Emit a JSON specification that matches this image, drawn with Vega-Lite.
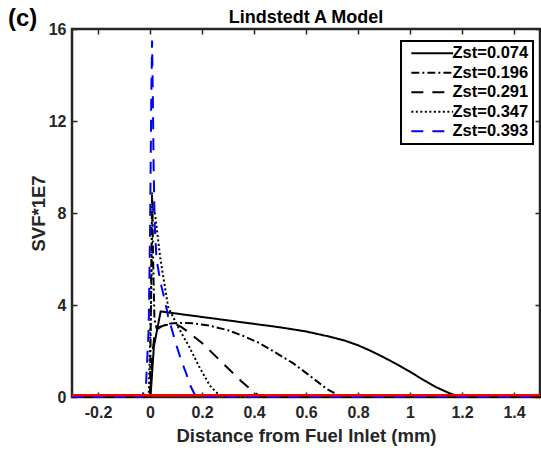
{
  "$schema": "https://vega.github.io/schema/vega-lite/v6.json",
  "width": 468,
  "height": 368,
  "autosize": {"type": "none"},
  "padding": {"left": 72, "top": 29, "right": 1, "bottom": 58},
  "background": "white",
  "title": {"text": "Lindstedt A Model", "fontSize": 18, "fontWeight": "bold", "font": "Liberation Sans", "color": "#000", "offset": -20, "anchor": "middle"},
  "config": {
    "font": "Liberation Sans",
    "view": {"stroke": "#262626", "strokeWidth": 2.5},
    "axis": {"grid": false, "domain": false, "tickColor": "#262626", "tickWidth": 1.5, "tickSize": -5, "labelColor": "#262626", "labelFontSize": 16, "labelFontWeight": "bold", "labelFont": "Liberation Sans", "titleColor": "#262626", "titleFontSize": 18.5, "titleFontWeight": "bold", "titleFont": "Liberation Sans"}
  },
  "datasets": {
    "curves": [
      {"s": "Zst=0.074", "x": -0.3, "y": 0}, {"s": "Zst=0.074", "x": 0.002, "y": 0}, {"s": "Zst=0.074", "x": 0.015, "y": 2.2}, {"s": "Zst=0.074", "x": 0.041, "y": 3.72},
      {"s": "Zst=0.074", "x": 0.1, "y": 3.63}, {"s": "Zst=0.074", "x": 0.2, "y": 3.48}, {"s": "Zst=0.074", "x": 0.3, "y": 3.33}, {"s": "Zst=0.074", "x": 0.4, "y": 3.18},
      {"s": "Zst=0.074", "x": 0.5, "y": 3.03}, {"s": "Zst=0.074", "x": 0.6, "y": 2.85}, {"s": "Zst=0.074", "x": 0.7, "y": 2.6}, {"s": "Zst=0.074", "x": 0.75, "y": 2.45},
      {"s": "Zst=0.074", "x": 0.8, "y": 2.25}, {"s": "Zst=0.074", "x": 0.85, "y": 2.0}, {"s": "Zst=0.074", "x": 0.9, "y": 1.72}, {"s": "Zst=0.074", "x": 0.95, "y": 1.42},
      {"s": "Zst=0.074", "x": 1.0, "y": 1.1}, {"s": "Zst=0.074", "x": 1.05, "y": 0.75}, {"s": "Zst=0.074", "x": 1.1, "y": 0.43}, {"s": "Zst=0.074", "x": 1.15, "y": 0.17},
      {"s": "Zst=0.074", "x": 1.18, "y": 0.05}, {"s": "Zst=0.074", "x": 1.2, "y": 0}, {"s": "Zst=0.074", "x": 1.5, "y": 0},

      {"s": "Zst=0.196", "x": -0.3, "y": 0}, {"s": "Zst=0.196", "x": 0.0, "y": 0}, {"s": "Zst=0.196", "x": 0.004, "y": 4.5}, {"s": "Zst=0.196", "x": 0.008, "y": 8.9},
      {"s": "Zst=0.196", "x": 0.012, "y": 6.0}, {"s": "Zst=0.196", "x": 0.017, "y": 3.4}, {"s": "Zst=0.196", "x": 0.025, "y": 3.0}, {"s": "Zst=0.196", "x": 0.05, "y": 3.1},
      {"s": "Zst=0.196", "x": 0.08, "y": 3.2}, {"s": "Zst=0.196", "x": 0.12, "y": 3.22}, {"s": "Zst=0.196", "x": 0.17, "y": 3.2}, {"s": "Zst=0.196", "x": 0.23, "y": 3.1},
      {"s": "Zst=0.196", "x": 0.3, "y": 2.9}, {"s": "Zst=0.196", "x": 0.36, "y": 2.65}, {"s": "Zst=0.196", "x": 0.42, "y": 2.35}, {"s": "Zst=0.196", "x": 0.48, "y": 1.95},
      {"s": "Zst=0.196", "x": 0.55, "y": 1.47}, {"s": "Zst=0.196", "x": 0.6, "y": 1.05}, {"s": "Zst=0.196", "x": 0.64, "y": 0.7}, {"s": "Zst=0.196", "x": 0.68, "y": 0.35},
      {"s": "Zst=0.196", "x": 0.72, "y": 0.1}, {"s": "Zst=0.196", "x": 0.75, "y": 0}, {"s": "Zst=0.196", "x": 1.5, "y": 0},

      {"s": "Zst=0.291", "x": -0.3, "y": 0}, {"s": "Zst=0.291", "x": 0.0, "y": 0}, {"s": "Zst=0.291", "x": 0.01, "y": 2.0}, {"s": "Zst=0.291", "x": 0.02, "y": 2.9},
      {"s": "Zst=0.291", "x": 0.05, "y": 3.1}, {"s": "Zst=0.291", "x": 0.09, "y": 3.2}, {"s": "Zst=0.291", "x": 0.12, "y": 3.05}, {"s": "Zst=0.291", "x": 0.15, "y": 2.8},
      {"s": "Zst=0.291", "x": 0.2, "y": 2.35}, {"s": "Zst=0.291", "x": 0.25, "y": 1.8}, {"s": "Zst=0.291", "x": 0.3, "y": 1.25}, {"s": "Zst=0.291", "x": 0.35, "y": 0.7},
      {"s": "Zst=0.291", "x": 0.39, "y": 0.3}, {"s": "Zst=0.291", "x": 0.42, "y": 0.05}, {"s": "Zst=0.291", "x": 0.44, "y": 0}, {"s": "Zst=0.291", "x": 1.5, "y": 0},

      {"s": "Zst=0.347", "x": -0.3, "y": 0}, {"s": "Zst=0.347", "x": -0.005, "y": 0}, {"s": "Zst=0.347", "x": 0.004, "y": 4.0}, {"s": "Zst=0.347", "x": 0.01, "y": 8.4},
      {"s": "Zst=0.347", "x": 0.02, "y": 7.9}, {"s": "Zst=0.347", "x": 0.04, "y": 6.0}, {"s": "Zst=0.347", "x": 0.07, "y": 3.9}, {"s": "Zst=0.347", "x": 0.11, "y": 3.0},
      {"s": "Zst=0.347", "x": 0.15, "y": 2.2}, {"s": "Zst=0.347", "x": 0.19, "y": 1.3}, {"s": "Zst=0.347", "x": 0.23, "y": 0.5}, {"s": "Zst=0.347", "x": 0.26, "y": 0.15},
      {"s": "Zst=0.347", "x": 0.28, "y": 0}, {"s": "Zst=0.347", "x": 1.5, "y": 0},

      {"s": "Zst=0.393", "x": -0.3, "y": 0}, {"s": "Zst=0.393", "x": -0.03, "y": 0}, {"s": "Zst=0.393", "x": -0.015, "y": 0.6}, {"s": "Zst=0.393", "x": -0.005, "y": 3.0},
      {"s": "Zst=0.393", "x": 0.0, "y": 7.0}, {"s": "Zst=0.393", "x": 0.005, "y": 13.0}, {"s": "Zst=0.393", "x": 0.008, "y": 15.5}, {"s": "Zst=0.393", "x": 0.011, "y": 13.0},
      {"s": "Zst=0.393", "x": 0.014, "y": 10.0}, {"s": "Zst=0.393", "x": 0.018, "y": 7.5}, {"s": "Zst=0.393", "x": 0.025, "y": 6.0}, {"s": "Zst=0.393", "x": 0.04, "y": 5.0},
      {"s": "Zst=0.393", "x": 0.055, "y": 4.3}, {"s": "Zst=0.393", "x": 0.07, "y": 3.5}, {"s": "Zst=0.393", "x": 0.085, "y": 2.9}, {"s": "Zst=0.393", "x": 0.1, "y": 2.3},
      {"s": "Zst=0.393", "x": 0.12, "y": 1.6}, {"s": "Zst=0.393", "x": 0.14, "y": 1.0}, {"s": "Zst=0.393", "x": 0.155, "y": 0.5}, {"s": "Zst=0.393", "x": 0.17, "y": 0.15},
      {"s": "Zst=0.393", "x": 0.18, "y": 0}, {"s": "Zst=0.393", "x": 1.5, "y": 0}
    ],
    "redline": [{"x": -0.3, "y": 0.08}, {"x": 1.5, "y": 0.08}],
    "panel": [{"label": "(c)", "x": -0.49, "y": 16.45}]
  },
  "resolve": {"axis": {"x": "independent", "y": "independent"}},
  "layer": [
    {
      "data": {"name": "curves"},
      "mark": {"type": "line", "strokeWidth": 2},
      "encoding": {
        "x": {"field": "x", "type": "quantitative", "scale": {"domain": [-0.3, 1.5], "nice": false, "zero": false},
              "axis": {"orient": "bottom", "values": [-0.2, 0, 0.2, 0.4, 0.6, 0.8, 1, 1.2, 1.4], "labelPadding": 12, "labelExpr": "replace(format(datum.value, '~g'), '\u2212', '-')", "title": "Distance from Fuel Inlet (mm)", "titlePadding": 6}},
        "y": {"field": "y", "type": "quantitative", "scale": {"domain": [0, 16], "nice": false},
              "axis": {"orient": "left", "values": [0, 4, 8, 12, 16], "labelPadding": 11, "title": "SVF*1E7", "titlePadding": 0}},
        "color": {"field": "s", "type": "nominal",
                  "scale": {"domain": ["Zst=0.074", "Zst=0.196", "Zst=0.291", "Zst=0.347", "Zst=0.393"], "range": ["#000000", "#000000", "#000000", "#000000", "#0000ff"]},
                  "legend": {"title": null, "orient": "none", "legendX": 329, "legendY": 12, "symbolType": "M-3.8,0L3.8,0", "symbolSize": 121, "symbolStrokeWidth": 2, "symbolOffset": 19, "labelOffset": 12, "labelFontSize": 16.5, "labelFontWeight": "bold", "labelColor": "#000", "labelFont": "Liberation Sans", "rowPadding": 2.5, "padding": 4, "strokeColor": "#000", "fillColor": "#fff",
                             "encode": {"legend": {"update": {"strokeWidth": {"value": 2}}}}}},
        "strokeDash": {"field": "s", "type": "nominal",
                       "scale": {"domain": ["Zst=0.074", "Zst=0.196", "Zst=0.291", "Zst=0.347", "Zst=0.393"], "range": [[1, 0], [8, 3, 2, 3], [12, 9], [2, 2.5], [12, 9]]},
                       "legend": null}
      }
    },
    {
      "data": {"name": "redline"},
      "mark": {"type": "line", "color": "#ff0000", "strokeWidth": 2.5},
      "encoding": {
        "x": {"field": "x", "type": "quantitative", "axis": {"orient": "top", "values": [-0.2, 0, 0.2, 0.4, 0.6, 0.8, 1, 1.2, 1.4], "labels": false, "title": null}},
        "y": {"field": "y", "type": "quantitative", "axis": {"orient": "right", "values": [0, 4, 8, 12, 16], "labels": false, "title": null}}
      }
    },
    {
      "data": {"name": "panel"},
      "mark": {"type": "text", "fontSize": 24, "fontWeight": "bold", "font": "Liberation Sans", "color": "#000", "align": "center", "baseline": "middle"},
      "encoding": {
        "x": {"field": "x", "type": "quantitative", "axis": null},
        "y": {"field": "y", "type": "quantitative", "axis": null},
        "text": {"field": "label"}
      }
    }
  ]
}
